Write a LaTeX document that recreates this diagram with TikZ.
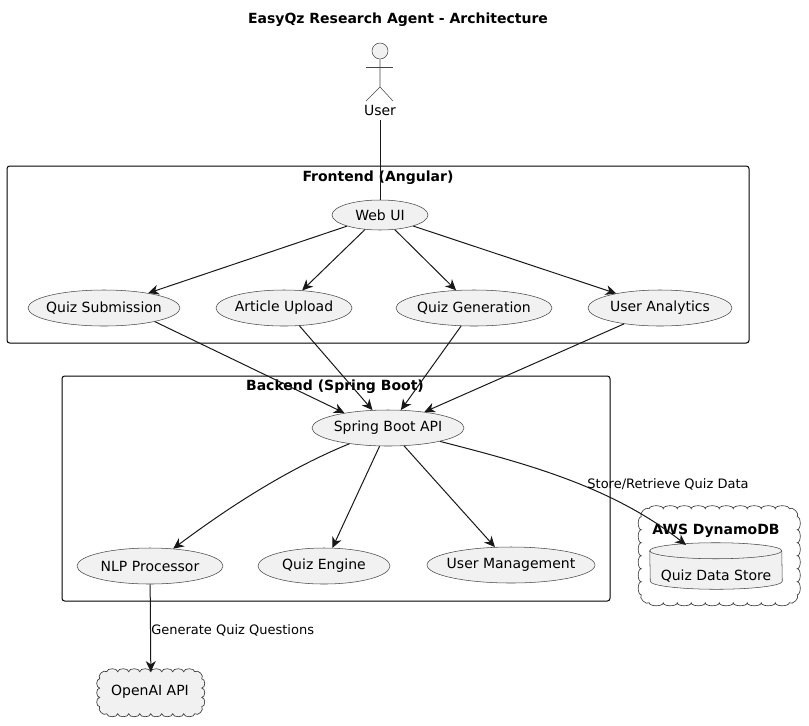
\documentclass[tikz,border=0pt]{standalone}
\usepackage{fontspec}
\setmainfont{DejaVu Sans}
\usetikzlibrary{arrows.meta,shapes.geometric}

\definecolor{umlfill}{HTML}{F1F1F1}
\definecolor{umlline}{HTML}{181818}

% Scalloped outline round a node: name, puffs across, puffs down, their two lengths, corner size
\newcommand{\puffround}[7][]{
  \draw[puffy,#1] (#2.north west) ++(#7,0)
    foreach \i in {1,...,#3} { .. controls +(0,-4) and +(0,-4) .. ++(#5,0) }
    .. controls +(3,-3) and +(3,-3) .. ++(#7,#7)
    foreach \i in {1,...,#4} { .. controls +(4,0) and +(4,0) .. ++(0,#6) }
    .. controls +(3,3) and +(3,3) .. ++(-#7,#7)
    foreach \i in {1,...,#3} { .. controls +(0,4) and +(0,4) .. ++(-#5,0) }
    .. controls +(-3,3) and +(-3,3) .. ++(-#7,-#7)
    foreach \i in {1,...,#4} { .. controls +(-4,0) and +(-4,0) .. ++(0,-#6) }
    .. controls +(-3,-3) and +(-3,-3) .. ++(#7,-#7) -- cycle;
}

\begin{document}
\begin{tikzpicture}[
  x=0.75pt,y=-0.75pt,
  every node/.style={align=center,font=\fontsize{10.5}{12}\selectfont,text=black},
  heading/.style={font=\fontsize{10.5}{12}\selectfont\bfseries},
  edgetext/.style={font=\fontsize{9.75}{12}\selectfont},
  frame/.style={draw=black,line width=0.75pt,rounded corners=2pt,inner sep=0pt},
  usecase/.style={ellipse,draw=umlline!80,line width=0.4pt,fill=umlfill,inner sep=-8pt,minimum height=27pt},
  region/.style={inner sep=0pt},
  puffy/.style={draw=umlline!85,line width=0.5pt},
  stick/.style={draw=umlline!80,line width=0.4pt},
  flow/.style={-{Stealth[length=8pt,width=7.5pt,inset=2.5pt]},draw=umlline,line width=0.75pt},
  plain/.style={draw=umlline,line width=0.75pt}]

\useasboundingbox (0,0) rectangle (809,725);

\node[heading] (title) at (398,19.5) {EasyQz Research Agent - Architecture};

% The actor
\node[circle,stick,fill=umlfill,minimum size=12pt,inner sep=0pt] (userHead) at (380,51) {};
\coordinate (userHip) at (380,87);
\coordinate (userArmL) at (366,67);
\coordinate (userArmR) at (393,67);
\coordinate (userLegL) at (366,101);
\coordinate (userLegR) at (393,101);
\draw[stick] (userHead) -- (userHip) -- (userLegL);
\draw[stick] (userHip) -- (userLegR);
\draw[stick] (userArmL) -- (userArmR);
\node[inner sep=0pt,minimum height=15pt] (user) at (380,110) {User};

% The frames
\node[frame,minimum width=556.5pt,minimum height=132.75pt] (frontend) at (378,254.5) {};
\node[heading] (frontendLabel) at (378,177.5) {Frontend (Angular)};
\node[frame,minimum width=411pt,minimum height=168.75pt] (backend) at (336,488.5) {};
\node[heading] (backendLabel) at (335,387) {Backend (Spring Boot)};

% The use cases
\node[usecase,minimum width=72pt,minimum height=22.5pt] (webUI) at (380,215) {Web UI};
\node[usecase,minimum width=114pt] (quizSubmission) at (104,308) {Quiz Submission};
\node[usecase,minimum width=102pt] (articleUpload) at (284,308) {Article Upload};
\node[usecase,minimum width=117pt] (quizGeneration) at (474,308) {Quiz Generation};
\node[usecase,minimum width=108pt] (userAnalytics) at (660,308) {User Analytics};
\node[usecase,minimum width=114pt] (springBoot) at (388,428) {Spring Boot API};
\node[usecase,minimum width=109.5pt] (nlpProcessor) at (150,566) {NLP Processor};
\node[usecase,minimum width=99pt] (quizEngine) at (324,566) {Quiz Engine};
\node[usecase,minimum width=126pt] (userManagement) at (511,565) {User Management};

% The clouds
\node[region,minimum width=76.5pt,minimum height=31.5pt] (openAI) at (151,693) {};
\puffround[fill=umlfill]{openAI}{8}{3}{11}{9.33}{7}
\node (openAILabel) at (150,692) {OpenAI API};
\node[region,minimum width=117pt,minimum height=70.5pt] (dynamoDB) at (719.5,556) {};
\puffround{dynamoDB}{10}{6}{14}{13}{8}
\node[heading] (dynamoLabel) at (716,531) {AWS DynamoDB};

% The database inside the cloud
\node[region,minimum width=99pt,minimum height=34.5pt] (dataStore) at (716,566) {};
\draw[stick,fill=umlfill] ([yshift=-6pt]dataStore.north west)
  arc[start angle=180,end angle=0,x radius=49.5pt,y radius=6pt]
  -- ([yshift=6pt]dataStore.south east)
  arc[start angle=0,end angle=-180,x radius=49.5pt,y radius=6pt] -- cycle;
\draw[stick] ([yshift=-6pt]dataStore.north west)
  arc[start angle=180,end angle=360,x radius=49.5pt,y radius=6pt];
\node (dataStoreLabel) at (716,576) {Quiz Data Store};
\coordinate (dataStoreTop) at (686,545);

% Draw the arrows between the nodes and label them.
\draw[plain] (user) -- (webUI);
\draw[flow] (webUI) -- (quizSubmission);
\draw[flow] (webUI) -- (articleUpload);
\draw[flow] (webUI) -- (quizGeneration);
\draw[flow] (webUI) -- (userAnalytics);
\draw[flow] (quizSubmission.-15) -- (springBoot.161);
\draw[flow] (articleUpload) -- (springBoot);
\draw[flow] (quizGeneration) -- (springBoot);
\draw[flow] (userAnalytics) -- (springBoot);
\draw[flow] (springBoot) .. controls (285,470) and (225,510) .. (nlpProcessor);
\draw[flow] (springBoot) -- (quizEngine);
\draw[flow] (springBoot) -- (userManagement);
\draw[flow] (springBoot) .. controls (520,462) and (610,485) .. (dataStoreTop);
\draw[flow] (nlpProcessor) -- (openAI);
\node[edgetext] (retrieveLabel) at (668,484) {Store/Retrieve Quiz Data};
\node[edgetext,anchor=west,inner sep=0pt] (generateLabel) at (151,630) {Generate Quiz Questions};

\end{tikzpicture}
\end{document}
